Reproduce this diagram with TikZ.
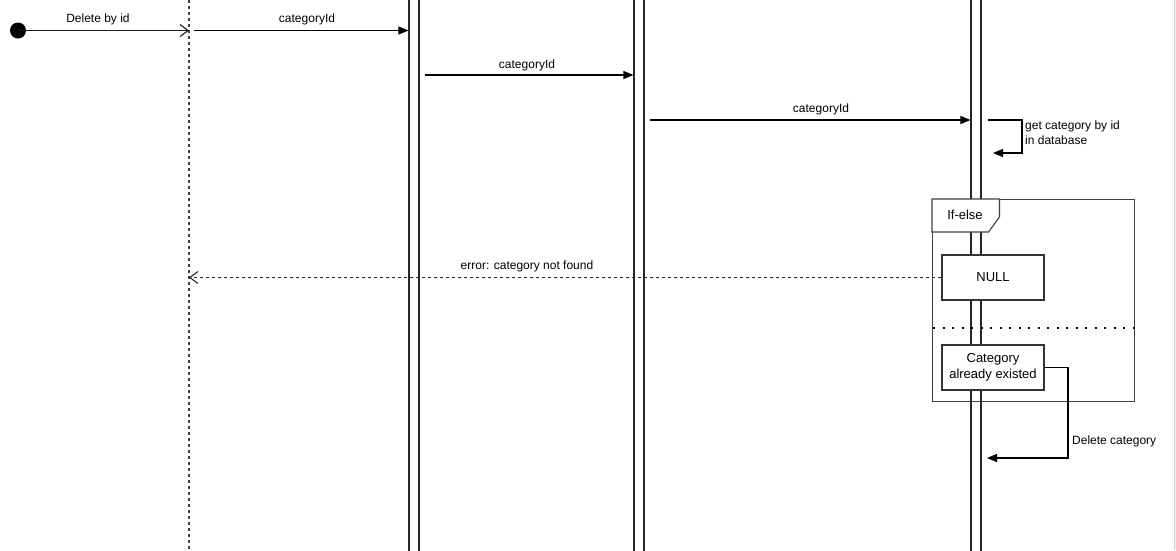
\documentclass[tikz,border=0pt]{standalone}
\usepackage{fontspec}
\setmainfont{Liberation Sans}
\usetikzlibrary{arrows.meta}
\begin{document}
\begin{tikzpicture}[x=1pt,y=-1pt,
  lbl/.style={font=\fontsize{12}{14}\selectfont, inner sep=0pt, text=black},
  boxtxt/.style={font=\fontsize{13}{15.5}\selectfont, align=center},
  msg/.style={draw=black, line width=1.1pt, -{Triangle[length=10pt,width=8pt]}},
  ret/.style={draw=black!85, line width=1.1pt, dash pattern=on 3pt off 3pt, -{Straight Barb[length=8pt,width=12pt]}},
  opn/.style={draw=black!90, line width=1.1pt, -{Straight Barb[length=8pt,width=12pt]}},
  lifebar/.style={draw=black!85, line width=1.1pt, fill=white, minimum width=10pt, minimum height=580pt, inner sep=0pt},
  actline/.style={draw=black!75, line width=1.2pt, dash pattern=on 3pt off 3pt},
  stepbox/.style={draw=black!80, line width=1.1pt, fill=white, minimum width=102pt, minimum height=45pt, inner sep=0pt, boxtxt},
  framebox/.style={draw=black!75, line width=1.1pt}
]
\useasboundingbox (0,0) rectangle (1176,550);
\fill[white] (0,0) rectangle (1176,550);
\fill[black!3] (1174.5,0) rectangle (1176,550);
\draw[black!20, line width=0.8pt] (1174.5,0) -- (1174.5,550);

% actor lifeline
\coordinate (A0) at (189,0);
\coordinate (A1) at (189,550);
\draw[actline] (A0) -- (A1);

% lifeline bars
\node[lifebar] (L2) at (414,275) {};
\node[lifebar] (L3) at (639,275) {};
\node[lifebar] (L4) at (976,275) {};

% start point
\node[circle, fill=black, minimum size=16pt, inner sep=0pt] (start) at (18,30.5) {};

% frame
\node[framebox, minimum width=202pt, minimum height=202pt, inner sep=0pt, anchor=north west] (frame) at (932,199) {};
\draw[framebox, fill=white] (932,199) -- (999.5,199) -- (999.5,217) -- (988.5,232) -- (932,232) -- cycle;
\node[boxtxt] (cond) at (965,215) {If-else};
\draw[black, line width=2pt, dash pattern=on 2pt off 7.5pt] (933,328) -- (frame.east |- 0,328);

% boxes
\node[stepbox] (null) at (993,277.5) {NULL};
\node[stepbox] (cat) at (993,367.5) {Category\\already existed};

% messages
\draw[opn] (start.center) -- (189,30.5) coordinate (a1);
\node[lbl] (m0) at (98,19) {Delete by id};

\coordinate (s1) at (194,30.5);
\draw[msg] (s1) -- (L2.west |- s1);
\node[lbl] (m1) at (307,19) {categoryId};

\coordinate (s2) at (425,75);
\draw[msg] (s2) -- (L3.west |- s2) ;
\node[lbl] (m2) at (527,65) {categoryId};

\coordinate (s3) at (650,120);
\draw[msg] (s3) -- (L4.west |- s3);
\node[lbl] (m3) at (821,109) {categoryId};

% self call
\coordinate (sc0) at (988,120);
\coordinate (sc1) at (993,153);
\draw[msg] (sc0) -- (1022,120) -- (1022,153) -- (sc1);
\node[lbl, anchor=north west, align=left, font=\fontsize{12}{15}\selectfont] (m4) at (1025,121) {get category by id\\in database};

% return
\draw[ret] (null.west) -- (A0 |- null.west);
\node[lbl] (m5) at (527,266) {error: category not found};

% delete
\coordinate (d1) at (987,458);
\draw[msg] (cat.east) -- (1068,367.5) -- (1068,458) -- (d1);
\node[lbl, anchor=west] (m6) at (1072,441) {Delete category};
\end{tikzpicture}
\end{document}
